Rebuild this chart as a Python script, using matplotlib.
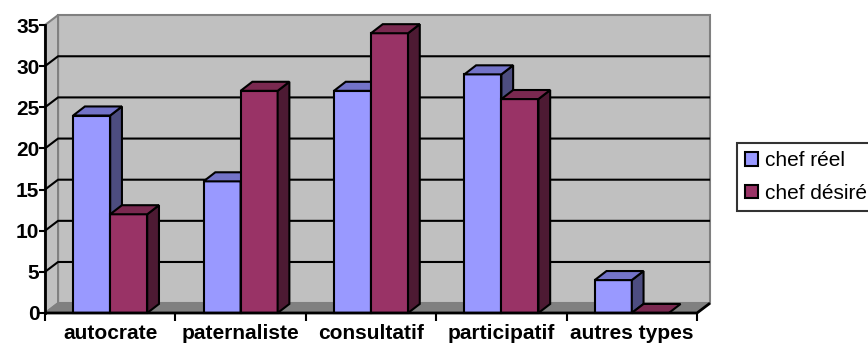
import numpy as np
import matplotlib
matplotlib.use("Agg")
from matplotlib import pyplot as plt
from matplotlib.patches import Polygon, Patch

# data
categories = ["autocrate", "paternaliste", "consultatif", "participatif", "autres types"]
chef_reel = [24, 16, 27, 29, 4]
chef_desire = [12, 27, 34, 26, 0]
series_names = ["chef réel", "chef désiré"]
yticks = [0, 5, 10, 15, 20, 25, 30, 35]

# colours: front, top, side
blue = ("#9999FF", "#7373C8", "#4D4D80")
red = ("#993366", "#7A2950", "#4D1A33")

plt.rcParams['font.family'] = ['Liberation Sans', 'DejaVu Sans']

fig = plt.figure(figsize=[8.68, 3.45], dpi=100)
ax = fig.add_axes([45/868, 1-313/345, 652/868, 288/345])
n = len(categories)
ymax = 35
ax.set_xlim(0, n)
ax.set_ylim(0, ymax)

# depth of the 3D box (data units)
dx, dy = 0.1, 1.2
bdx, bdy = 0.09, 1.1

def poly(pts, fc, ec, lw, z):
    p = Polygon(pts, closed=True, facecolor=fc, edgecolor=ec, lw=lw,
                clip_on=False, zorder=z, joinstyle='miter')
    ax.add_patch(p)

# back wall, left wall, floor
poly([(dx, dy), (n+dx, dy), (n+dx, ymax+dy), (dx, ymax+dy)], "#C0C0C0", "#808080", 1.5, 1)
poly([(0, 0), (dx, dy), (dx, ymax+dy), (0, ymax)], "#C0C0C0", "#808080", 1.5, 1)
poly([(0, 0), (n, 0), (n+dx, dy), (dx, dy)], "#808080", "#808080", 1.0, 1)

# gridlines on walls
for v in yticks[1:-1]:
    ax.plot([0, dx, n+dx], [v, v+dy, v+dy], color="black", lw=1.5, zorder=2,
            clip_on=False, solid_capstyle='butt')

# bars
w = 0.284
start = 0.5 - w
for i in range(n):
    for j, (vals, cols) in enumerate([(chef_reel, blue), (chef_desire, red)]):
        v = vals[i]
        x0 = i + start + j*w
        x1 = x0 + w
        if v > 0:
            poly([(x0, 0), (x1, 0), (x1, v), (x0, v)], cols[0], "black", 1.5, 3)
            poly([(x1, 0), (x1+bdx, bdy), (x1+bdx, v+bdy), (x1, v)], cols[2], "black", 1.5, 3)
        poly([(x0, v), (x1, v), (x1+bdx, v+bdy), (x0+bdx, v+bdy)], cols[1], "black", 1.5, 3)

# front edge of floor
ax.plot([0, n, n+dx], [0, 0, dy], color="black", lw=2, zorder=4, clip_on=False,
        solid_capstyle='butt')

for s in ["top", "right", "bottom"]:
    ax.spines[s].set_visible(False)
ax.spines["left"].set_linewidth(2)
ax.spines["left"].set_zorder(5)
ax.set_facecolor("none")

ax.set_yticks(yticks)
ax.tick_params(axis='y', length=4, width=1.5, labelsize=15, pad=0)
for lab in ax.get_yticklabels():
    lab.set_fontweight('bold')

ax.set_xticks(np.arange(n+1))
ax.set_xticklabels([])
ax.tick_params(axis='x', which='major', length=6, width=1.5, direction='out')
ax.set_xticks(np.arange(n) + 0.5, minor=True)
ax.set_xticklabels(categories, minor=True, fontsize=15, fontweight='bold')
ax.tick_params(axis='x', which='minor', length=0, pad=8)

handles = [Patch(facecolor=blue[0], edgecolor="black", lw=1.5),
           Patch(facecolor=red[0], edgecolor="black", lw=1.5)]
leg = fig.legend(handles, series_names, loc="upper left",
                 bbox_to_anchor=(737/868, 1-143/345), fontsize=15,
                 frameon=True, fancybox=False, handlelength=0.6, handleheight=0.6,
                 handletextpad=0.35, borderpad=0.4, labelspacing=0.65,
                 borderaxespad=0)
leg.get_frame().set_edgecolor("black")
leg.get_frame().set_linewidth(1.5)

fig.savefig("out.png", dpi=100)
